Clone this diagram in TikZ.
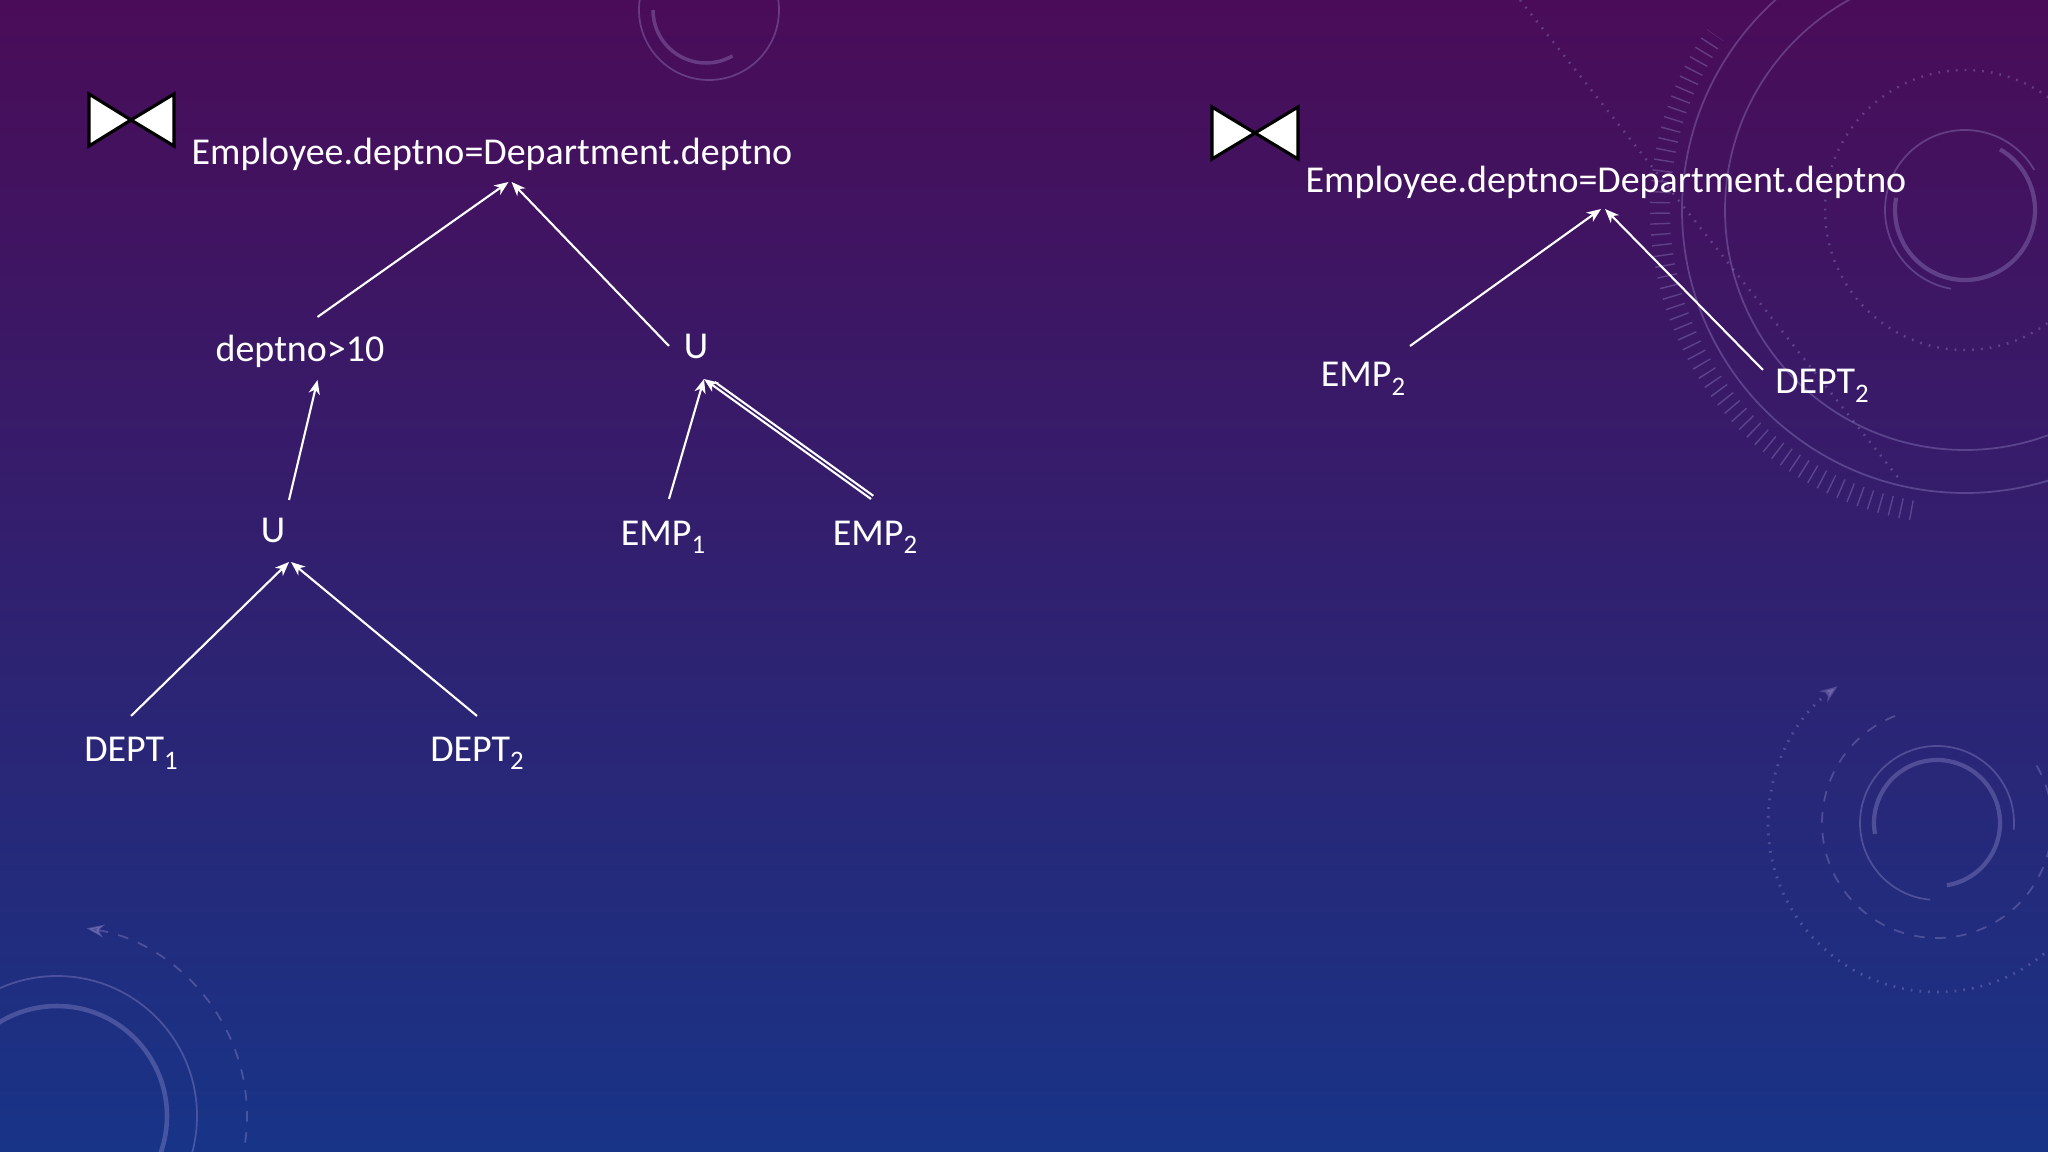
\documentclass[tikz,border=0pt]{standalone}
\usepackage{fontspec}
\setmainfont{Carlito}
\usetikzlibrary{arrows.meta}

\definecolor{fondhaut}{RGB}{74,12,88}
\definecolor{fondmilieu}{RGB}{54,22,108}
\definecolor{fondbas}{RGB}{24,52,135}
\definecolor{deco}{RGB}{175,165,225}

% indice abaisse
\newcommand{\indice}[1]{\raisebox{-0.45ex}{\fontsize{7.6}{8}\selectfont #1}}

\tikzset{
  etiquette/.style={text=white, inner sep=0pt, anchor=base,
    font=\fontsize{10.8}{13}\selectfont},
  fleche/.style={draw=white, line width=0.6pt,
    -{Stealth[length=4pt,width=3.2pt,inset=1.2pt]}},
  trait/.style={draw=white, line width=0.6pt},
  jointure/.style={fill=white, draw=black, line width=0.9pt, line join=miter},
  anneau/.style={draw=deco, opacity=0.3, line width=0.5pt},
}

\begin{document}
\begin{tikzpicture}[x=0.01cm, y=-0.01cm]
  % Fond
  \shade[top color=fondhaut, middle color=fondmilieu, bottom color=fondbas]
    (0,0) rectangle (2048,1152);
  \useasboundingbox (0,0) rectangle (2048,1152);

  % Decor
  \begin{scope}
    \clip (0,0) rectangle (2048,1152);
    \draw[anneau] (709,10) circle (70);
    \draw[anneau, line width=1pt] (706,10) ++(180:53) arc[start angle=180, end angle=60, radius=53];
    \draw[anneau] (57,1116) circle (140);
    \draw[anneau, line width=1.3pt] (57,1116) circle (110);
    \draw[anneau, dashed, {Stealth[length=5pt]}-] (57,1116) ++(-81:190) arc[start angle=-81, end angle=11, radius=190];
    \draw[anneau] (1937,823) ++(95:77) arc[start angle=95, end angle=365, radius=77];
    \draw[anneau, line width=1.2pt] (1937,823) ++(170:63) arc[start angle=170, end angle=441, radius=63];
    \draw[anneau, dashed] (1937,823) ++(-30:115) arc[start angle=-30, end angle=250, radius=115];
    \draw[anneau, dotted, line width=0.8pt, -{Stealth[length=5pt]}] (1937,823) ++(0:169) arc[start angle=0, end angle=234, radius=169];
    \draw[anneau] (1965,210) circle (240);
    \draw[anneau] (1965,210) circle (283);
    \draw[anneau, dotted, line width=0.7pt] (1965,210) circle (140);
    \draw[anneau] (1965,210) ++(100:80) arc[start angle=100, end angle=330, radius=80];
    \draw[anneau, line width=1.2pt] (1965,210) ++(-60:70) arc[start angle=-60, end angle=190, radius=70];
    \draw[anneau, line width=0.2cm, dash pattern=on 0.4pt off 2.6pt] (1965,210) ++(100:305) arc[start angle=100, end angle=215, radius=305];
    \draw[anneau, dotted, line width=0.7pt] (1520,0) -- (1900,480);
  \end{scope}

  % Arbre de gauche
  \filldraw[jointure] (89,94) -- (89,146) -- (131,120) -- cycle;
  \filldraw[jointure] (174,94) -- (174,146) -- (131,120) -- cycle;
  \node[etiquette] (jointure1) at (492,165) {Employee.deptno=Department.deptno};
  \node[etiquette] (selection) at (300,362) {deptno>10};
  \node[etiquette] (union1) at (696,359) {U};
  \node[etiquette] (union2) at (273,543) {U};
  \node[etiquette] (emp1) at (663,545) {EMP\indice{1}};
  \node[etiquette] (emp2) at (875,545) {EMP\indice{2}};
  \node[etiquette] (dept1) at (131,761) {DEPT\indice{1}};
  \node[etiquette] (dept2) at (477,761) {DEPT\indice{2}};

  \draw[fleche] ([xshift=0.175cm, yshift=0.45cm]selection.base) -- ([xshift=0.165cm, yshift=-0.17cm]jointure1.base);
  \draw[fleche] ([xshift=-0.27cm, yshift=0.13cm]union1.base) -- ([xshift=0.195cm, yshift=-0.17cm]jointure1.base);
  \draw[fleche] ([xshift=0.16cm, yshift=0.43cm]union2.base) -- ([xshift=0.175cm, yshift=-0.18cm]selection.base);
  \draw[fleche] ([xshift=0.06cm, yshift=0.46cm]emp1.base) -- ([xshift=0.08cm, yshift=-0.2cm]union1.base);
  \draw[fleche] ([xshift=-0.04cm, yshift=0.46cm]emp2.base) -- ([xshift=0.08cm, yshift=-0.2cm]union1.base);
  \draw[trait, shorten >=3pt] ([xshift=-0.017cm, yshift=0.492cm]emp2.base) -- ([xshift=0.103cm, yshift=-0.168cm]union1.base);
  \draw[fleche] ([yshift=0.45cm]dept1.base) -- ([xshift=0.16cm, yshift=-0.19cm]union2.base);
  \draw[fleche] ([yshift=0.45cm]dept2.base) -- ([xshift=0.18cm, yshift=-0.19cm]union2.base);

  % Arbre de droite
  \filldraw[jointure] (1212,107) -- (1212,159) -- (1255,133) -- cycle;
  \filldraw[jointure] (1298,107) -- (1298,159) -- (1255,133) -- cycle;
  \node[etiquette] (jointure2) at (1606,193) {Employee.deptno=Department.deptno};
  \node[etiquette] (emp2b) at (1363,387) {EMP\indice{2}};
  \node[etiquette] (dept2b) at (1822,394) {DEPT\indice{2}};

  \draw[fleche] ([xshift=0.47cm, yshift=0.41cm]emp2b.base) -- ([xshift=-0.05cm, yshift=-0.16cm]jointure2.base);
  \draw[fleche] ([xshift=-0.59cm, yshift=0.24cm]dept2b.base) -- ([xshift=-0.01cm, yshift=-0.16cm]jointure2.base);
\end{tikzpicture}
\end{document}
